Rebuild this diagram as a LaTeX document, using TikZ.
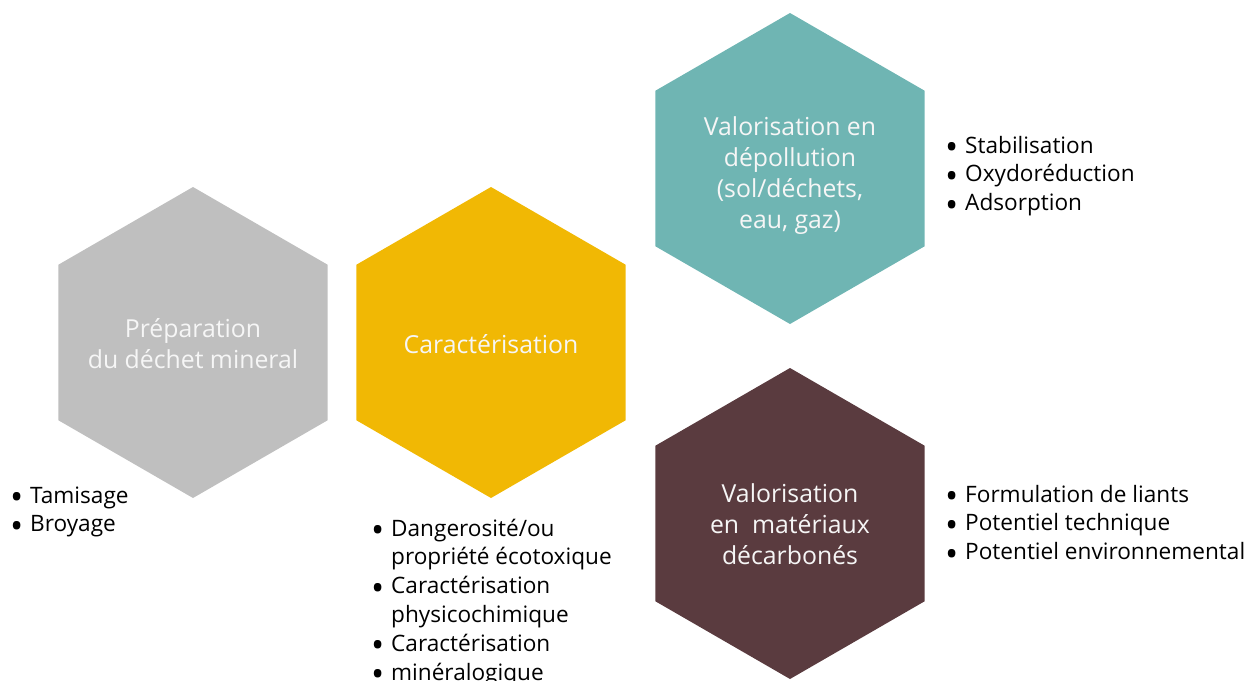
\documentclass[tikz,border=0pt]{standalone}
\usepackage{fontspec}
\setmainfont{Open Sans}
\usetikzlibrary{shapes.geometric}
\definecolor{hexgray}{RGB}{191,191,191}
\definecolor{hexyellow}{RGB}{241,184,4}
\definecolor{hexteal}{RGB}{111,181,179}
\definecolor{hexbrown}{RGB}{90,59,63}
\definecolor{hextext}{RGB}{246,246,246}
\newcommand{\blt}{\makebox[20pt][l]{\raisebox{-0.3em}[0pt][0pt]{\scalebox{1.55}{•}}}}
\begin{document}
\begin{tikzpicture}[x=1pt,y=-1pt,
  hexnode/.style={regular polygon, regular polygon sides=6, shape border rotate=90,
    minimum size=311pt, inner sep=0pt, outer sep=0pt, draw=none},
  hexlabel/.style={anchor=base, inner sep=0pt, text=hextext,
    font=\fontsize{24.8}{31}\selectfont},
  listnode/.style={anchor=base west, inner sep=0pt, text=black,
    font=\fontsize{22.6}{28.8}\selectfont}
]
\useasboundingbox (0,0) rectangle (1247,680);
% hexagons
\node[hexnode, fill=hexgray]   (prep) at (193,342.5) {};
\node[hexnode, fill=hexyellow] (cara) at (491,342.5) {};
\node[hexnode, fill=hexteal]   (depo) at (790,168.5) {};
\node[hexnode, fill=hexbrown]  (mate) at (790,523.5) {};
% hexagon texts
\node[hexlabel] (prept) at (193,337) {\begin{tabular}[t]{@{}c@{}}Préparation\\du déchet mineral\end{tabular}};
\node[hexlabel] (carat) at (491,353) {\begin{tabular}[t]{@{}c@{}}Caractérisation\end{tabular}};
\node[hexlabel] (depot) at (790,135) {\begin{tabular}[t]{@{}c@{}}Valorisation en\\dépollution\\(sol/déchets,\\eau, gaz)\end{tabular}};
\node[hexlabel] (matet) at (790,502) {\begin{tabular}[t]{@{}c@{}}Valorisation\\en\ \ matériaux\\décarbonés\end{tabular}};
% bullet lists
\node[listnode] (prepl) at (10,503) {\begin{tabular}[t]{@{}l@{}}\blt Tamisage\\\blt Broyage\end{tabular}};
\node[listnode] (caral) at (371,536) {\begin{tabular}[t]{@{}l@{}l@{}}\blt&Dangerosité/ou\\&propriété écotoxique\\\blt&Caractérisation\\&physicochimique\\\blt&Caractérisation\\\blt&minéralogique\end{tabular}};
\node[listnode] (depol) at (945,153) {\begin{tabular}[t]{@{}l@{}}\blt Stabilisation\\\blt Oxydoréduction\\\blt Adsorption\end{tabular}};
\node[listnode] (matel) at (945,502) {\begin{tabular}[t]{@{}l@{}}\blt Formulation de liants\\\blt Potentiel technique\\\blt Potentiel environnemental\end{tabular}};
\end{tikzpicture}
\end{document}
